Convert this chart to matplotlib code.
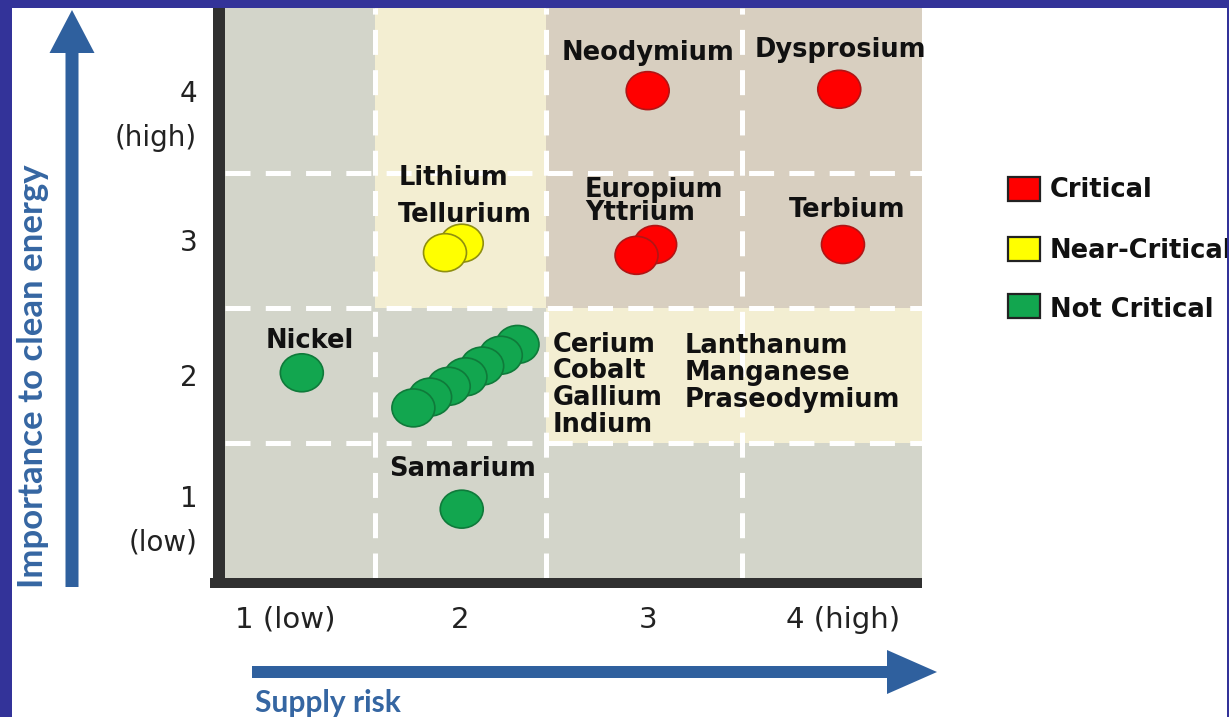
import matplotlib
matplotlib.use("Agg")
import matplotlib.pyplot as plt
from matplotlib.patches import Ellipse, Rectangle, FancyArrow
from matplotlib.colors import ListedColormap

plt.rcParams['lines.scale_dashes'] = False

# ---------------- data ----------------
elements = ["Neodymium", "Dysprosium", "Europium", "Yttrium", "Terbium",
            "Lithium", "Tellurium", "Nickel", "Samarium",
            "Praseodymium", "Manganese", "Lanthanum", "Indium",
            "Gallium", "Cobalt", "Cerium"]
supply_risk = [2.95, 3.98, 2.99, 2.89, 4.00,
               1.95, 1.86, 1.09, 1.95,
               2.25, 2.16, 2.06, 1.97, 1.88, 1.78, 1.69]
importance = [4.11, 4.12, 2.97, 2.89, 2.97,
              2.98, 2.91, 2.02, 1.01,
              2.23, 2.15, 2.07, 1.99, 1.92, 1.84, 1.76]
category = ["Critical"] * 5 + ["Near-Critical"] * 2 + ["Not Critical"] * 9

categories = ["Critical", "Near-Critical", "Not Critical"]
cat_face = ["#ff0000", "#ffff00", "#12a64f"]
cat_edge = ["#b01515", "#8f8f10", "#0f7a3a"]

x_ticks = [1.0, 1.94, 2.95, 4.0]
x_tick_labels = ["1 (low)", "2", "3", "4 (high)"]
y_ticks = [1, 2, 3, 4]
y_tick_labels = ["1\n(low)", "2", "3", "4\n(high)"]

# criticality zones (rows bottom -> top, columns left -> right)
col_edges = [0.677, 1.484, 2.403, 3.457, 4.425]
row_edges = [0.5, 1.5, 2.5, 3.5, 4.722]
zones = [[0, 0, 0, 0],
         [0, 0, 1, 1],
         [0, 1, 2, 2],
         [0, 1, 2, 2]]
zone_colors = ["#d3d5ca", "#f3eed2", "#d8cfc0"]

# text annotations (label, x, y, alignment)
label_text = ["Neodymium", "Dysprosium", "Europium", "Yttrium", "Terbium",
              "Lithium", "Tellurium", "Nickel", "Samarium",
              "Cerium", "Cobalt", "Gallium", "Indium",
              "Lanthanum", "Manganese", "Praseodymium"]
label_x = [2.952, 3.984, 2.613, 2.613, 4.022,
           1.608, 1.608, 1.134, 1.952,
           2.441, 2.441, 2.441, 2.441,
           3.151, 3.151, 3.151]
label_y = [4.337, 4.359, 3.322, 3.152, 3.174,
           3.411, 3.137, 2.204, 1.256,
           2.174, 1.981, 1.781, 1.581,
           2.167, 1.967, 1.767]
label_ha = ["center", "center", "left", "left", "center",
            "left", "left", "center", "center",
            "left", "left", "left", "left",
            "left", "left", "left"]

# ---------------- figure ----------------
W, H = 1229, 717
fig = plt.figure(figsize=(W / 100, H / 100), dpi=100)
fig.patch.set_facecolor("white")

L, R, B, T = 225, 922, 578, 8
ax = fig.add_axes([L / W, (H - B) / H, (R - L) / W, (B - T) / H])
ax.set_xlim(col_edges[0], col_edges[-1])
ax.set_ylim(row_edges[0], row_edges[-1])

ax.pcolormesh(col_edges, row_edges, zones, cmap=ListedColormap(zone_colors),
              vmin=-0.5, vmax=2.5, zorder=0)
for yv in row_edges[1:-1]:
    ax.axhline(yv, color="white", lw=3.6, linestyle=(0, (18, 11)), zorder=1)
for xv in col_edges[1:-1]:
    ax.axvline(xv, color="white", lw=3.6, linestyle=(0, (18, 11)), zorder=1)

for i, (x, y, c) in enumerate(zip(supply_risk, importance, category)):
    k = categories.index(c)
    ax.add_patch(Ellipse((x, y), width=0.231, height=0.281,
                         facecolor=cat_face[k], edgecolor=cat_edge[k],
                         lw=1.2, zorder=3 + i * 0.01))

for t, x, y, ha in zip(label_text, label_x, label_y, label_ha):
    ax.text(x, y, t, ha=ha, va="baseline", fontsize=18.5, fontweight="bold",
            family="DejaVu Sans", color="#111111", zorder=5)

for s in ax.spines.values():
    s.set_visible(False)
ax.set_xticks(x_ticks, x_tick_labels)
ax.set_yticks(y_ticks, y_tick_labels)
ax.tick_params(axis="both", length=0, colors="#222222")
ax.tick_params(axis="x", pad=20, labelsize=21)
ax.tick_params(axis="y", pad=20, labelsize=20)
for lab in ax.get_xticklabels() + ax.get_yticklabels():
    lab.set_family("DejaVu Sans")
for lab in ax.get_yticklabels():
    lab.set_linespacing(1.7)

# ---------------- overlay decorations (pixel space) ----------------
ov = fig.add_axes([0, 0, 1, 1], zorder=5)
ov.set_xlim(0, W)
ov.set_ylim(H, 0)
ov.axis("off")
ov.patch.set_alpha(0)

dark = "#303030"
ov.add_patch(Rectangle((213, 8), 12, 580, color=dark, lw=0))
ov.add_patch(Rectangle((210, 578), 712, 10, color=dark, lw=0))

blue = "#2f609e"
ov.add_patch(FancyArrow(72, 587, 0, -577, width=13, head_width=45,
                        head_length=43, length_includes_head=True,
                        color=blue, lw=0))
ov.add_patch(FancyArrow(252, 672, 685, 0, width=12, head_width=44,
                        head_length=50, length_includes_head=True,
                        color=blue, lw=0))
ov.text(33, 376, "Importance to clean energy", rotation=90, ha="center",
        va="center", fontsize=25, fontweight="bold", family="Lato",
        color="#3566a2")
ov.text(255, 712, "Supply risk", ha="left", va="baseline", fontsize=21.5,
        fontweight="bold", family="Lato", color="#3566a2")

# legend
leg_top = [177, 237, 294]
leg_base = [197, 258, 317]
for k, name in enumerate(categories):
    ov.add_patch(Rectangle((1008, leg_top[k]), 32, 24, facecolor=cat_face[k],
                           edgecolor="#222222", lw=1.6))
    ov.text(1050, leg_base[k], name, ha="left", va="baseline",
            fontsize=18.5, fontweight="bold", family="DejaVu Sans",
            color="#111111")

# navy frame
navy = "#333399"
ov.add_patch(Rectangle((0, 0), W, 8, color=navy, lw=0, zorder=10))
ov.add_patch(Rectangle((0, 0), 12, H, color=navy, lw=0, zorder=10))
ov.add_patch(Rectangle((1227, 0), 2, H, color=navy, lw=0, zorder=10))

fig.savefig("out.png", dpi=100)
